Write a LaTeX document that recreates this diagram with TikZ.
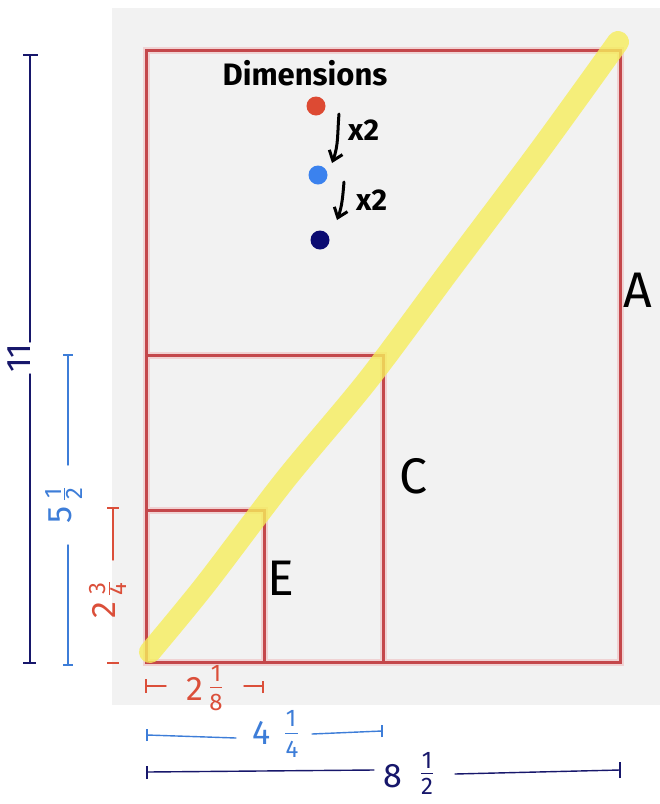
\documentclass[tikz,border=0pt]{standalone}
\usepackage{amsmath}
\usepackage{fontspec}
\setmainfont{Fira Sans}
\usetikzlibrary{arrows.meta}
\definecolor{rectred}{HTML}{C4474B}
\definecolor{glow}{HTML}{F0D2D3}
\definecolor{hl}{HTML}{F6EE5C}
\definecolor{navy}{HTML}{17176B}
\definecolor{dimblue}{HTML}{3D7DD8}
\definecolor{dimred}{HTML}{DB4F3A}
\definecolor{paper}{HTML}{F2F2F2}
\definecolor{dotred}{HTML}{DD4A33}
\definecolor{dotblue}{HTML}{3B82EE}
\definecolor{dotnavy}{HTML}{0C0C72}
\newcommand{\hfr}[2]{$\frac{\text{#1}}{\text{#2}}$}
\newcommand{\light}{\fontseries{l}\selectfont}
\begin{document}
\begin{tikzpicture}[x=1pt,y=-1pt,
  sheet/.style={draw=glow,line width=7pt},
  sheetline/.style={draw=rectred,line width=3pt},
  dimline/.style={line width=1.4pt,line cap=round},
  dimtext/.style={inner sep=0pt,font=\fontsize{34}{36}\selectfont\mdseries},
  fractext/.style={inner sep=0pt,font=\fontsize{24}{26}\selectfont\mdseries},
  letter/.style={inner sep=0pt,font=\fontsize{50}{52}\selectfont\light},
  dot/.style={circle,inner sep=0pt,minimum size=19pt},
  growarrow/.style={-{Straight Barb[length=9pt,width=14pt]},line width=3pt,line cap=round},
  twolabel/.style={inner sep=0pt,font=\fontsize{30}{32}\selectfont\bfseries}]
\useasboundingbox (0,0) rectangle (660,804);
\fill[white] (0,0) rectangle (660,804);
\fill[paper] (112,8) rectangle (660,705);
% sheets
\coordinate (o) at (146,662);
\coordinate (A) at (620,50);
\coordinate (C) at (383,355);
\coordinate (E) at (264,510);
\foreach \c in {A,C,E}{
  \draw[sheet] (o) rectangle (\c);
}
\foreach \c in {A,C,E}{
  \draw[sheetline] (o) rectangle (\c);
}
% highlight diagonal
\draw[hl,opacity=0.8,line width=22pt,line cap=round,line join=round]
  plot[smooth] coordinates {(150,652) (205,585) (285,480) (368,380) (450,270) (540,150) (618,42)};
% letters
\node[letter] (la) at (638,290) {A};
\node[letter] (lc) at (413,476) {C};
\node[letter] (le) at (281,578) {E};
% dimensions key
\node[inner sep=0pt,font=\fontsize{31}{33}\selectfont\bfseries] (dim) at (305,73) {Dimensions};
\node[dot,fill=dotred] (d1) at (316,106) {};
\node[dot,fill=dotblue] (d2) at (318,175) {};
\node[dot,fill=dotnavy] (d3) at (320,240) {};
\draw[growarrow] ([shift={(23,8)}]d1.center) to[out=-95,in=70] ([shift={(14,-12)}]d2.center);
\draw[growarrow] ([shift={(26,7)}]d2.center) to[out=-95,in=70] ([shift={(17,-20)}]d3.center);
\node[twolabel,anchor=west] (x2a) at (348,130) {x2};
\node[twolabel,anchor=west] (x2b) at (356,200) {x2};
% left dimensions
\coordinate (n1) at (30,55);
\coordinate (n2) at (30,342);
\coordinate (n3) at (30,374);
\coordinate (n4) at (30,663);
\node[dimtext,text=navy,rotate=90] (t11) at (19,358) {11};
\draw[navy,dimline] (n1) -- (n2) (n3) -- (n4);
\draw[navy,line width=2pt] ([xshift=-7]n1) -- ([xshift=8]n1) ([xshift=-7]n4) -- ([xshift=6]n4);
\coordinate (b1) at (68,355);
\coordinate (b2) at (68,465);
\coordinate (b3) at (68,545);
\coordinate (b4) at (68,665);
\node[dimtext,text=dimblue,rotate=90] (t55) at (64,505) {5\,\hfr{1}{2}};
\draw[dimblue,dimline] (b1) -- (b2) (b3) -- (b4);
\draw[dimblue,line width=2pt] ([xshift=-5]b1) -- ([xshift=5]b1) ([xshift=-5]b4) -- ([xshift=5]b4);
\coordinate (r1) at (113,508);
\coordinate (r2) at (113,560);
\coordinate (r3) at (113,663);
\node[dimtext,text=dimred,rotate=90] (t275) at (108,600) {2\,\hfr{3}{4}};
\draw[dimred,dimline] (r1) -- (r2);
\draw[dimred,line width=2pt] ([xshift=-6]r1) -- ([xshift=6]r1) ([xshift=-6]r3) -- ([xshift=6]r3);
% bottom dimensions
\coordinate (s1) at (146,686);
\coordinate (s2) at (166,686);
\coordinate (s3) at (244,686);
\coordinate (s4) at (263,686);
\node[dimtext,text=dimred] (t218) at (195,689) {2};
\node[fractext,text=dimred] (t218n) at (216,673) {1};
\node[fractext,text=dimred] (t218d) at (216,702) {8};
\draw[dimred,line width=1pt] (210,687) -- (222,687);
\draw[dimred,dimline] (s1) -- (s2) (s3) -- (s4);
\draw[dimred,line width=2pt] ([yshift=-7]s1) -- ([yshift=7]s1) ([yshift=-7]s4) -- ([yshift=5]s4);
\coordinate (m1) at (147,735);
\coordinate (m2) at (236,738);
\coordinate (m3) at (312,734);
\coordinate (m4) at (382,731);
\node[dimtext,text=dimblue] (t425) at (262,733) {4};
\node[fractext,text=dimblue] (t425n) at (291,718) {1};
\node[fractext,text=dimblue] (t425d) at (292,749) {4};
\draw[dimblue,line width=1pt] (285,733) -- (298,733);
\draw[dimblue,dimline] (m1) -- (m2) (m3) -- (m4);
\draw[dimblue,line width=2.4pt] ([yshift=-6]m1) -- ([yshift=6]m1) ([yshift=-6]m4) -- ([yshift=6]m4);
\coordinate (w1) at (147,772);
\coordinate (w2) at (374,770);
\coordinate (w3) at (455,774);
\coordinate (w4) at (620,770);
\node[dimtext,text=navy] (t85) at (393,776) {8};
\node[fractext,text=navy] (t85n) at (427,760) {1};
\node[fractext,text=navy] (t85d) at (427,786) {2};
\draw[navy,line width=1pt] (421,773) -- (433,773);
\draw[navy,dimline] (w1) -- (w2);
\draw[navy,dimline] (w3) -- (w4);
\draw[navy,line width=2pt] ([yshift=-7]w1) -- ([yshift=6]w1) ([yshift=-8]w4) -- ([yshift=8]w4);
\end{tikzpicture}
\end{document}
